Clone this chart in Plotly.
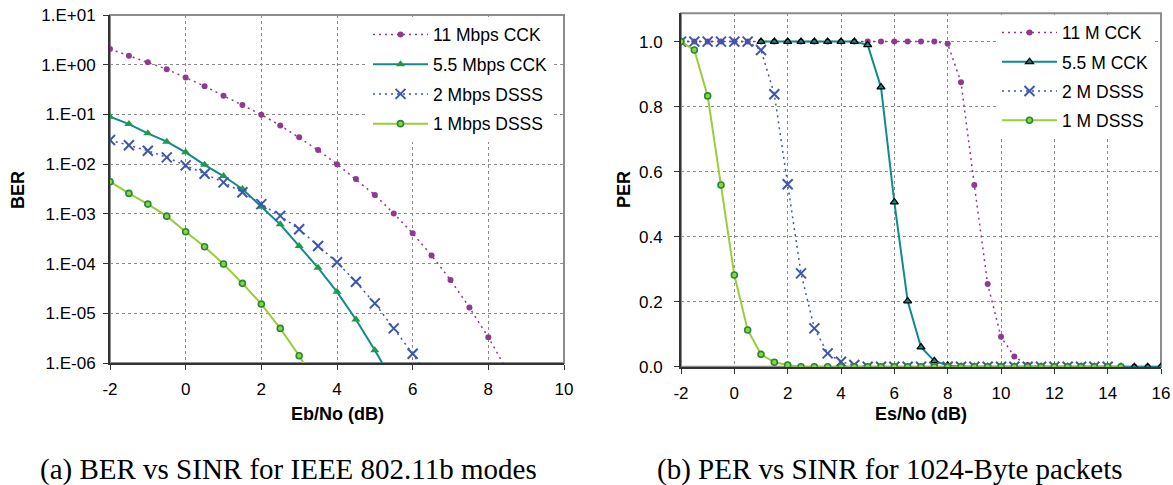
import plotly.graph_objects as go

# ---------------- data: (a) BER vs Eb/No ----------------
ber_x_11 = [-2, -1.5, -1, -0.5, 0, 0.5, 1, 1.5, 2, 2.5, 3, 3.5, 4, 4.5, 5, 5.5, 6, 6.5, 7, 7.5, 8, 8.5]
ber_11 = [2.07, 1.52, 1.12, 0.81, 0.55, 0.37, 0.238, 0.155, 0.099, 0.060, 0.0346, 0.0192, 0.010,
          0.0050, 0.0024, 1.02e-3, 4.05e-4, 1.46e-4, 4.66e-5, 1.31e-5, 3.3e-6, 7e-7]
ber_x_55 = [-2, -1.5, -1, -0.5, 0, 0.5, 1, 1.5, 2, 2.5, 3, 3.5, 4, 4.5, 5, 5.5]
ber_55 = [0.090, 0.064, 0.0417, 0.0283, 0.0173, 0.0097, 0.00576, 0.00316, 1.39e-3, 6.15e-4,
          2.25e-4, 8.2e-5, 2.7e-5, 7.5e-6, 1.8e-6, 4e-7]
ber_x_2 = [-2, -1.5, -1, -0.5, 0, 0.5, 1, 1.5, 2, 2.5, 3, 3.5, 4, 4.5, 5, 5.5, 6, 6.5]
ber_2 = [0.0305, 0.0239, 0.0186, 0.0137, 0.00946, 0.00641, 0.0043, 0.00271, 1.57e-3, 9.1e-4,
         4.9e-4, 2.25e-4, 1.06e-4, 4.3e-5, 1.58e-5, 4.97e-6, 1.53e-6, 4.3e-7]
ber_x_1 = [-2, -1.5, -1, -0.5, 0, 0.5, 1, 1.5, 2, 2.5, 3, 3.5]
ber_1 = [4.43e-3, 2.58e-3, 1.57e-3, 9.0e-4, 4.37e-4, 2.18e-4, 9.8e-5, 4.0e-5, 1.53e-5, 4.97e-6,
         1.4e-6, 3.4e-7]

ber_tickvals = [1e1, 1e0, 1e-1, 1e-2, 1e-3, 1e-4, 1e-5, 1e-6]
ber_ticktext = ["1.E+01", "1.E+00", "1.E-01", "1.E-02", "1.E-03", "1.E-04", "1.E-05", "1.E-06"]
ber_xticks = [-2, 0, 2, 4, 6, 8, 10]
ber_xticktext = ["-2", "0", "2", "4", "6", "8", "10"]

# ---------------- data: (b) PER vs Es/No ----------------
per_x_11 = [-2, -1.5, -1, -0.5, 0, 0.5, 1, 1.5, 2, 2.5, 3, 3.5, 4, 4.5, 5, 5.5, 6, 6.5, 7, 7.5, 8,
            8.5, 9, 9.5, 10, 10.5, 11, 11.5, 12, 12.5, 13, 13.5, 14, 14.5, 15, 15.5, 16]
per_11 = [1.0, 1.0, 1.0, 1.0, 1.0, 1.0, 1.0, 1.0, 1.0, 1.0, 1.0, 1.0, 1.0, 1.0, 1.0, 1.0, 1.0, 1.0,
          1.0, 1.0, 0.993, 0.875, 0.559, 0.254, 0.092, 0.031, 0.005, 0.0, 0.0, 0.0, 0.0, 0.0, 0.0,
          0.0, 0.0, 0.0, 0.0]
per_x_55 = [1, 1.5, 2, 2.5, 3, 3.5, 4, 4.5, 5, 5.5, 6, 6.5, 7, 7.5, 8, 8.5, 9, 9.5, 10, 10.5, 11,
            11.5, 12, 12.5, 13, 13.5, 14, 14.5, 15, 15.5, 16]
per_55 = [1.0, 1.0, 1.0, 1.0, 1.0, 1.0, 1.0, 1.0, 0.99, 0.86, 0.506, 0.202, 0.06, 0.018, 0.004,
          0.0, 0.0, 0.0, 0.0, 0.0, 0.0, 0.0, 0.0, 0.0, 0.0, 0.0, 0.0, 0.0, 0.0, 0.0, 0.0]
per_x_2 = [-2, -1.5, -1, -0.5, 0, 0.5, 1, 1.5, 2, 2.5, 3, 3.5, 4, 4.5, 5, 5.5, 6, 6.5, 7, 7.5, 8,
           8.5, 9, 9.5, 10, 10.5, 11, 11.5, 12, 12.5, 13, 13.5, 14]
per_2 = [1.0, 1.0, 1.0, 1.0, 1.0, 1.0, 0.974, 0.838, 0.561, 0.287, 0.118, 0.041, 0.015, 0.005,
         0.0, 0.0, 0.0, 0.0, 0.0, 0.0, 0.0, 0.0, 0.0, 0.0, 0.0, 0.0, 0.0, 0.0, 0.0, 0.0, 0.0, 0.0, 0.0]
per_x_1 = [-2, -1.5, -1, -0.5, 0, 0.5, 1, 1.5, 2, 2.5, 3, 3.5, 4, 4.5, 5, 5.5, 6, 6.5, 7, 7.5, 8,
           8.5, 9, 9.5, 10, 10.5, 11, 11.5, 12, 12.5, 13, 13.5, 14, 14.5]
per_1 = [1.0, 0.974, 0.833, 0.559, 0.282, 0.113, 0.038, 0.0135, 0.005, 0.0, 0.0, 0.0, 0.0, 0.0,
         0.0, 0.0, 0.0, 0.0, 0.0, 0.0, 0.0, 0.0, 0.0, 0.0, 0.0, 0.0, 0.0, 0.0, 0.0, 0.0, 0.0, 0.0,
         0.0, 0.0]
per_xticks = [-2, 0, 2, 4, 6, 8, 10, 12, 14, 16]
per_xticktext = ["-2", "0", "2", "4", "6", "8", "10", "12", "14", "16"]
per_yticks = [0.0, 0.2, 0.4, 0.6, 0.8, 1.0]

names_a = ["11 Mbps CCK", "5.5 Mbps CCK", "2 Mbps DSSS", "1 Mbps DSSS"]
names_b = ["11 M CCK", "5.5 M CCK", "2 M DSSS", "1 M DSSS"]

# ---------------- styles ----------------
PURPLE = "#8E3A8E"
TEAL = "#108A8A"
GREEN_TRI = "#1F9A4B"
BLUE = "#3D57AD"
LGREEN = "#9ACD3A"
DGREEN = "#1E8B3C"
FONT = "Liberation Sans, Arial, sans-serif"

W, H = 1173, 485
fig = go.Figure()


def add_series(xs, ys, xa, ya, name, legend, kind, panel):
    if kind == "11":
        line = dict(color=PURPLE, width=1.5, dash="2px,4px")
        marker = dict(symbol="circle", size=6, color=PURPLE)
    elif kind == "55":
        line = dict(color=TEAL, width=2)
        if panel == "a":
            marker = dict(symbol="triangle-up", size=8, color=GREEN_TRI)
        else:
            marker = dict(symbol="triangle-up", size=7, color=TEAL,
                          line=dict(color="black", width=1.3))
    elif kind == "2":
        line = dict(color=BLUE, width=1.5, dash="2px,4px")
        marker = dict(symbol="x-thin", size=10, color=BLUE, line=dict(color=BLUE, width=2))
    else:
        line = dict(color=LGREEN, width=2)
        marker = dict(symbol="circle", size=6, color=LGREEN, line=dict(color=DGREEN, width=1.6))
    fig.add_trace(go.Scatter(x=xs, y=ys, xaxis=xa, yaxis=ya, name=name, mode="lines+markers",
                             line=line, marker=marker, legend=legend,
                             legendgroup=panel + kind))


add_series(ber_x_11, ber_11, "x", "y", names_a[0], "legend", "11", "a")
add_series(ber_x_55, ber_55, "x", "y", names_a[1], "legend", "55", "a")
add_series(ber_x_2, ber_2, "x", "y", names_a[2], "legend", "2", "a")
add_series(ber_x_1, ber_1, "x", "y", names_a[3], "legend", "1", "a")

add_series(per_x_11, per_11, "x2", "y2", names_b[0], "legend2", "11", "b")
add_series(per_x_55, per_55, "x2", "y2", names_b[1], "legend2", "55", "b")
add_series(per_x_2, per_2, "x2", "y2", names_b[2], "legend2", "2", "b")
add_series(per_x_1, per_1, "x2", "y2", names_b[3], "legend2", "1", "b")

# plot-area geometry (pixels)
ax_l, ax_r, ax_t, ax_b = 110, 564, 15, 363
bx_l, bx_r, bx_t, bx_b = 681, 1161, 13.3, 366.7


def dom_x(a, b):
    return [a / W, b / W]


def dom_y(t, b):
    return [1 - b / H, 1 - t / H]


base = dict(showgrid=True, gridcolor="#8C8C8C", gridwidth=1, griddash="3px,3px",
            zeroline=False, showline=True, linecolor="#333333", linewidth=2,
            ticks="outside", ticklen=5, tickcolor="#333333", automargin=False,
            tickfont=dict(family=FONT, size=17, color="black"))
xgrid = dict(base, ticklabelstandoff=5)
ygrid = dict(base, ticklabelstandoff=4)

fig.update_layout(
    width=W, height=H, margin=dict(l=0, r=0, t=0, b=0, autoexpand=False),
    paper_bgcolor="white", plot_bgcolor="white",
    showlegend=True,
    xaxis=dict(domain=dom_x(ax_l, ax_r), anchor="y", range=[-2, 10], tickvals=ber_xticks,
               ticktext=ber_xticktext, **xgrid),
    yaxis=dict(domain=dom_y(ax_t, ax_b), anchor="x", type="log", range=[-6, 1],
               tickvals=ber_tickvals, ticktext=ber_ticktext, **ygrid),
    xaxis2=dict(domain=dom_x(bx_l, bx_r), anchor="y2", range=[-2, 16], tickvals=per_xticks,
                ticktext=per_xticktext, **xgrid),
    yaxis2=dict(domain=dom_y(bx_t, bx_b), anchor="x2", range=[0, 1.087], tickvals=per_yticks,
                tickformat=".1f", **dict(ygrid, ticklabelstandoff=8)),
    legend=dict(x=368 / W, y=1 - 16.5 / H, xanchor="left", yanchor="top",
                bgcolor="white", borderwidth=0, tracegroupgap=4, itemwidth=55,
                font=dict(family=FONT, size=17.5, color="black")),
    legend2=dict(x=997 / W, y=1 - 14.6 / H, xanchor="left", yanchor="top",
                 bgcolor="white", borderwidth=0, tracegroupgap=3.5, itemwidth=55,
                 font=dict(family=FONT, size=17.5, color="black")),
)

# grey frame around plot areas (top/right edges)
for xr, yr in (("x domain", "y domain"), ("x2 domain", "y2 domain")):
    fig.add_shape(type="rect", xref=xr, yref=yr, x0=0, x1=1, y0=0, y1=1,
                  line=dict(color="#8C8C8C", width=2), layer="below")

# axis titles
ann = [
    dict(text="<b>BER</b>", x=18 / W, y=1 - 190 / H, textangle=-90),
    dict(text="<b>Eb/No (dB)</b>", x=337 / W, y=1 - 414 / H, textangle=0),
    dict(text="<b>PER</b>", x=624 / W, y=1 - 190 / H, textangle=-90),
    dict(text="<b>Es/No (dB)</b>", x=921 / W, y=1 - 414 / H, textangle=0),
]
for a in ann:
    fig.add_annotation(text=a["text"], x=a["x"], y=a["y"], xref="paper", yref="paper",
                       showarrow=False, textangle=a["textangle"], xanchor="center", yanchor="middle",
                       font=dict(family=FONT, size=18, color="black"))

captions = [("(a) BER vs SINR for IEEE 802.11b modes", 288),
            ("(b) PER vs SINR for 1024-Byte packets", 890)]
for text, cx in captions:
    fig.add_annotation(text=text, x=cx / W, y=1 - 469 / H, xref="paper", yref="paper",
                       showarrow=False, xanchor="center", yanchor="middle",
                       font=dict(family="Liberation Serif, DejaVu Serif, serif", size=29, color="black"))

fig.write_html("out.html", config={"displayModeBar": False},
               post_script="document.body.style.margin='0';document.body.style.overflow='hidden';")
